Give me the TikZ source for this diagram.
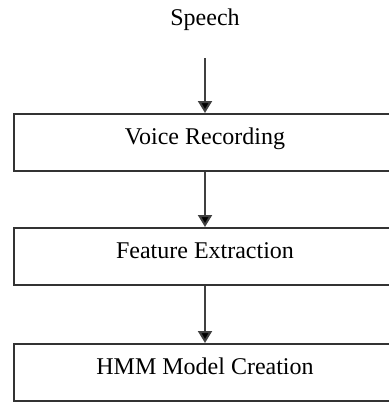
\documentclass[tikz,border=0pt]{standalone}
\usepackage{fontspec}
\setmainfont{Liberation Serif}
\usetikzlibrary{arrows.meta}
\tikzset{
    stage/.style={draw=black!80, line width=1pt, minimum width=191pt, minimum height=28.5pt,
        text height=9pt, text depth=7pt, inner sep=0pt, font=\fontsize{12}{14}\selectfont},
    flow/.style={draw=black!75, line width=1pt, -{Triangle[length=6pt,width=7pt,fill=black]}}
}
\begin{document}
\begin{tikzpicture}[x=1pt,y=-1pt]
    \useasboundingbox (0,0) rectangle (194,201);
    % input
    \node[font=\fontsize{12}{14}\selectfont] (speech) at (102.5,10) {Speech};
    \coordinate (speechend) at (102.5,29);
    % stages
    \node[stage] (voice) at (102.5,71.25) {Voice Recording};
    \node[stage] (feature) at (102.5,128.25) {Feature Extraction};
    \node[stage] (hmm) at (102.5,186.25) {HMM Model Creation};
    % arrows
    \draw[flow] (speechend) -- (voice.north);
    \draw[flow] (voice.south) -- (feature.north);
    \draw[flow] (feature.south) -- (hmm.north);
\end{tikzpicture}
\end{document}
